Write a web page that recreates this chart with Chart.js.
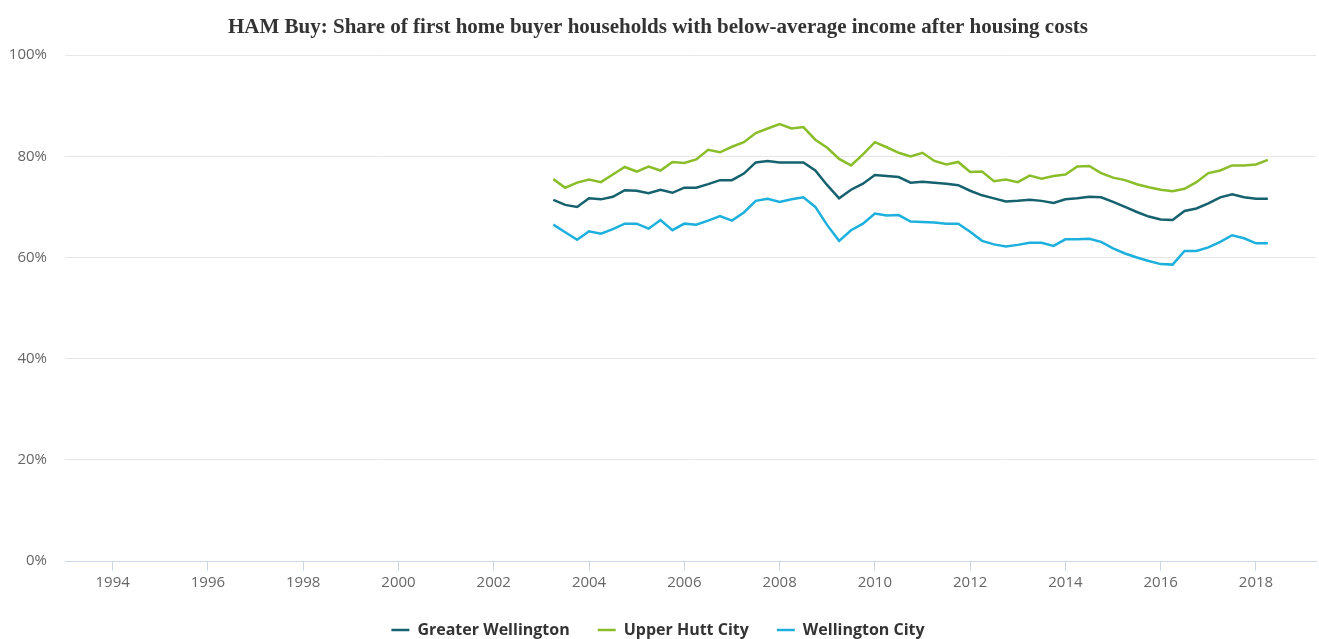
<!DOCTYPE html>
<html>
<head>
<meta charset="utf-8">
<title>HAM Buy</title>
<script src="https://cdn.jsdelivr.net/npm/chart.js@4/dist/chart.umd.min.js"></script>
<style>
    html, body { margin: 0; padding: 0; background: #fff; }
    #wrap { width: 1319px; height: 639px; }
</style>
</head>
<body>
<div id="wrap"><canvas id="hamChart"></canvas></div>
<script>
// 季度（季末月份）
const quarters = [
    '2003-03', '2003-06', '2003-09', '2003-12',
    '2004-03', '2004-06', '2004-09', '2004-12',
    '2005-03', '2005-06', '2005-09', '2005-12',
    '2006-03', '2006-06', '2006-09', '2006-12',
    '2007-03', '2007-06', '2007-09', '2007-12',
    '2008-03', '2008-06', '2008-09', '2008-12',
    '2009-03', '2009-06', '2009-09', '2009-12',
    '2010-03', '2010-06', '2010-09', '2010-12',
    '2011-03', '2011-06', '2011-09', '2011-12',
    '2012-03', '2012-06', '2012-09', '2012-12',
    '2013-03', '2013-06', '2013-09', '2013-12',
    '2014-03', '2014-06', '2014-09', '2014-12',
    '2015-03', '2015-06', '2015-09', '2015-12',
    '2016-03', '2016-06', '2016-09', '2016-12',
    '2017-03', '2017-06', '2017-09', '2017-12',
    '2018-03'
];

// 各地区数值（%）
const greaterWellington = [
    71.4, 70.4, 70.0, 71.7, 71.5, 72.0, 73.3, 73.2, 72.7, 73.4,
    72.8, 73.8, 73.8, 74.5, 75.3, 75.3, 76.6, 78.8, 79.1, 78.8,
    78.8, 78.8, 77.2, 74.3, 71.7, 73.4, 74.6, 76.3, 76.1, 75.9,
    74.8, 75.0, 74.8, 74.6, 74.3, 73.2, 72.3, 71.7, 71.1, 71.2,
    71.4, 71.2, 70.8, 71.5, 71.7, 72.0, 71.9, 71.0, 70.0, 69.0,
    68.1, 67.5, 67.4, 69.2, 69.7, 70.7, 71.9, 72.5, 71.9, 71.6,
    71.6
];
const upperHuttCity = [
    75.5, 73.8, 74.8, 75.4, 74.9, 76.4, 77.9, 77.0, 78.0, 77.2,
    78.9, 78.7, 79.4, 81.3, 80.8, 81.9, 82.8, 84.6, 85.5, 86.4,
    85.5, 85.8, 83.3, 81.7, 79.5, 78.2, 80.4, 82.8, 81.8, 80.7,
    80.0, 80.7, 79.1, 78.4, 78.9, 76.9, 77.0, 75.1, 75.4, 74.9,
    76.2, 75.6, 76.1, 76.4, 78.0, 78.1, 76.7, 75.8, 75.3, 74.5,
    73.9, 73.4, 73.1, 73.6, 74.9, 76.7, 77.2, 78.2, 78.2, 78.4,
    79.3
];
const wellingtonCity = [
    66.5, 65.0, 63.5, 65.2, 64.7, 65.6, 66.7, 66.7, 65.7, 67.4,
    65.4, 66.7, 66.5, 67.3, 68.2, 67.3, 68.9, 71.2, 71.6, 71.0,
    71.5, 71.9, 70.0, 66.4, 63.3, 65.4, 66.7, 68.7, 68.3, 68.4,
    67.1, 67.0, 66.9, 66.7, 66.7, 65.1, 63.3, 62.6, 62.2, 62.5,
    62.9, 62.9, 62.3, 63.6, 63.6, 63.7, 63.1, 61.8, 60.8, 60.0,
    59.3, 58.7, 58.6, 61.3, 61.3, 62.0, 63.1, 64.4, 63.8, 62.8,
    62.8
];

// 坐标轴刻度
const yearTicks = [1994, 1996, 1998, 2000, 2002, 2004, 2006, 2008, 2010, 2012, 2014, 2016, 2018];
const percentTicks = [0, 20, 40, 60, 80, 100];

// 季度转为小数年份
function toYear(q) {
    const [y, m] = q.split('-').map(Number);
    return y + m / 12;
}

function toPoints(values) {
    return values.map((v, i) => ({ x: toYear(quarters[i]), y: v }));
}

const seriesStyle = {
    borderWidth: 2.5,
    pointRadius: 0,
    pointHoverRadius: 4,
    tension: 0,
    fill: false
};

const ctx = document.getElementById('hamChart').getContext('2d');

new Chart(ctx, {
    type: 'line',
    data: {
        datasets: [
            { label: 'Greater Wellington', data: toPoints(greaterWellington), borderColor: '#16616e', backgroundColor: '#16616e', ...seriesStyle },
            { label: 'Upper Hutt City', data: toPoints(upperHuttCity), borderColor: '#8abd2a', backgroundColor: '#8abd2a', ...seriesStyle },
            { label: 'Wellington City', data: toPoints(wellingtonCity), borderColor: '#1db0dd', backgroundColor: '#1db0dd', ...seriesStyle }
        ]
    },
    options: {
        responsive: true,
        maintainAspectRatio: false,
        animation: false,
        layout: {
            padding: { left: 0, right: 3, top: 0, bottom: -9 }
        },
        plugins: {
            title: {
                display: true,
                text: 'HAM Buy: Share of first home buyer households with below-average income after housing costs',
                color: '#333333',
                font: { family: '"Liberation Serif", serif', size: 21, weight: 'bold' },
                padding: { top: 15, bottom: 15 }
            },
            legend: {
                position: 'bottom',
                labels: {
                    usePointStyle: true,
                    pointStyle: 'line',
                    pointStyleWidth: 18,
                    color: '#333333',
                    padding: 28,
                    font: { family: '"Open Sans", sans-serif', size: 16, weight: 'bold' }
                }
            },
            tooltip: {
                callbacks: {
                    label: function(context) {
                        return `${context.dataset.label}: ${context.raw.y.toFixed(1)}%`;
                    }
                }
            }
        },
        scales: {
            x: {
                type: 'linear',
                min: 1993.0,
                max: 2019.26,
                afterBuildTicks: function(scale) {
                    scale.ticks = yearTicks.map(v => ({ value: v }));
                },
                afterFit: function(scale) {
                    scale.height = 33;
                },
                grid: {
                    drawOnChartArea: false,
                    drawTicks: true,
                    tickLength: 10,
                    color: '#ccd6eb'
                },
                border: { color: '#ccd6eb' },
                ticks: {
                    color: '#666666',
                    padding: 3,
                    maxRotation: 0,
                    autoSkip: false,
                    font: { family: '"Open Sans", sans-serif', size: 15 },
                    callback: function(value) {
                        return String(value);
                    }
                }
            },
            y: {
                min: 0,
                max: 100,
                afterBuildTicks: function(scale) {
                    scale.ticks = percentTicks.map(v => ({ value: v }));
                },
                afterFit: function(scale) {
                    scale.width = 65;
                },
                grid: {
                    color: '#e6e6e6',
                    drawTicks: false
                },
                border: { display: false },
                ticks: {
                    color: '#666666',
                    padding: 18,
                    font: { family: '"Open Sans", sans-serif', size: 15 },
                    callback: function(value) {
                        return value + '%';
                    }
                }
            }
        }
    }
});
</script>
</body>
</html>
